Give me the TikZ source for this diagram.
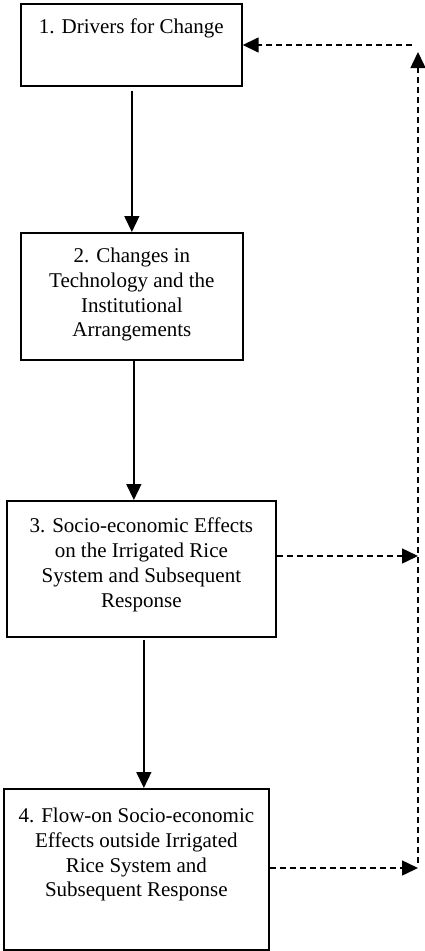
\documentclass[tikz,border=0pt]{standalone}
\usepackage{fontspec}
\setmainfont{Liberation Serif}
\usetikzlibrary{arrows.meta,calc}
\newcommand{\boxtxt}[4]{\parbox[b][#2pt][t]{#1pt}{\vspace*{#3pt}\centering\fontsize{21}{24.8}\selectfont #4\par}}
\tikzset{
  stagebox/.style={draw=black, line width=1.7pt, inner sep=0pt, anchor=north west},
  solidarr/.style={line width=1.5pt, -{Triangle[width=15pt,length=16pt]}},
  dasharr/.style={line width=1.5pt, dash pattern=on 6pt off 4pt, -{Triangle[width=15pt,length=16pt]}},
}
\begin{document}
\begin{tikzpicture}[x=1pt,y=-1pt]
\useasboundingbox (0,0) rectangle (425,951);
\node[stagebox] (b1) at (20,3) {\boxtxt{221}{82}{15}{1. Drivers for Change}};
\node[stagebox] (b2) at (20,232) {\boxtxt{222}{127}{15}{2. Changes in\\Technology and the\\Institutional\\Arrangements}};
\node[stagebox] (b3) at (6,500) {\boxtxt{269}{136}{17}{3. Socio-economic Effects\\on the Irrigated Rice\\System and Subsequent\\Response}};
\node[stagebox] (b4) at (3,788) {\boxtxt{265}{161}{19}{4. Flow-on Socio-economic\\Effects outside Irrigated\\Rice System and\\Subsequent Response}};
% vertical connectors
\draw[solidarr] ($(b2.north |- b1.south)+(0,4)$) -- (b2.north);
\draw[solidarr] ($(b2.south)+(2,0)$) -- ($(b3.north -| b2.south)+(2,0)$);
\draw[solidarr] ($(b3.south)+(2.5,2)$) -- ($(b4.north -| b3.south)+(2.5,0)$);
% feedback loop
\coordinate (fb3) at (418,556);
\coordinate (fb4) at (418,868);
\coordinate (vbot) at (418,863);
\coordinate (vtop) at (418,52);
\coordinate (htop) at (412,45);
\draw[dasharr] (b3.east |- fb3) -- (fb3);
\draw[dasharr] (b4.east |- fb4) -- (fb4);
\draw[dasharr] (vbot) -- (vtop);
\draw[dasharr] (htop) -- (b1.east |- htop);
\end{tikzpicture}
\end{document}
